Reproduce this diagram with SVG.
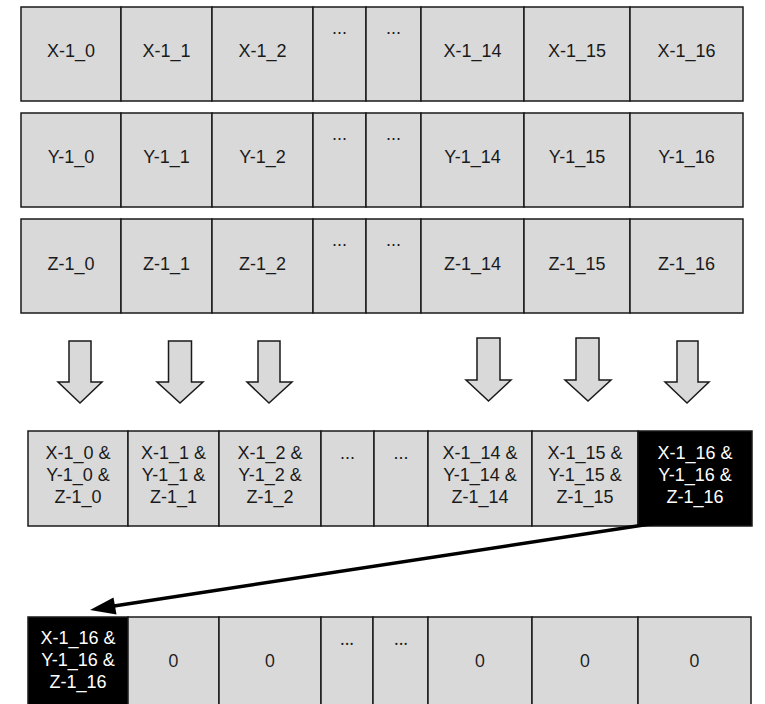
<svg xmlns="http://www.w3.org/2000/svg" width="765" height="704" viewBox="0 0 765 704">
<style>
.c{fill:#d9d9d9;stroke:#1a1a1a;stroke-width:1.5}
.k{fill:#000;stroke:#1a1a1a;stroke-width:1.5}
.t{font-family:"Liberation Sans",Arial,sans-serif;font-size:18px;fill:#1a1a1a;text-anchor:middle}
.w{font-family:"Liberation Sans",Arial,sans-serif;font-size:18px;fill:#fff;text-anchor:middle}
.z{font-family:"Open Sans","Noto Sans",sans-serif;font-size:18px;fill:#1a1a1a;text-anchor:middle}
.a{fill:#d9d9d9;stroke:#1a1a1a;stroke-width:1.5;stroke-linejoin:miter}
</style>
<rect width="765" height="704" fill="#fff"/>
<g id="rowX">
<rect class="c" x="21" y="7" width="100" height="94"/><text class="t" x="71" y="57">X-1_0</text>
<rect class="c" x="121" y="7" width="91" height="94"/><text class="t" x="166.5" y="57">X-1_1</text>
<rect class="c" x="212" y="7" width="101" height="94"/><text class="t" x="262.5" y="57">X-1_2</text>
<rect class="c" x="313" y="7" width="53" height="94"/><text class="t" x="339.5" y="34">...</text>
<rect class="c" x="366" y="7" width="55" height="94"/><text class="t" x="393.5" y="34">...</text>
<rect class="c" x="421" y="7" width="103" height="94"/><text class="t" x="472.5" y="57">X-1_14</text>
<rect class="c" x="524" y="7" width="106" height="94"/><text class="t" x="577" y="57">X-1_15</text>
<rect class="c" x="630" y="7" width="113" height="94"/><text class="t" x="686.5" y="57">X-1_16</text>
</g>
<g id="rowY">
<rect class="c" x="21" y="113" width="100" height="94"/><text class="t" x="71" y="163">Y-1_0</text>
<rect class="c" x="121" y="113" width="91" height="94"/><text class="t" x="166.5" y="163">Y-1_1</text>
<rect class="c" x="212" y="113" width="101" height="94"/><text class="t" x="262.5" y="163">Y-1_2</text>
<rect class="c" x="313" y="113" width="53" height="94"/><text class="t" x="339.5" y="140">...</text>
<rect class="c" x="366" y="113" width="55" height="94"/><text class="t" x="393.5" y="140">...</text>
<rect class="c" x="421" y="113" width="103" height="94"/><text class="t" x="472.5" y="163">Y-1_14</text>
<rect class="c" x="524" y="113" width="106" height="94"/><text class="t" x="577" y="163">Y-1_15</text>
<rect class="c" x="630" y="113" width="113" height="94"/><text class="t" x="686.5" y="163">Y-1_16</text>
</g>
<g id="rowZ">
<rect class="c" x="21" y="219" width="100" height="94"/><text class="t" x="71" y="270">Z-1_0</text>
<rect class="c" x="121" y="219" width="91" height="94"/><text class="t" x="166.5" y="270">Z-1_1</text>
<rect class="c" x="212" y="219" width="101" height="94"/><text class="t" x="262.5" y="270">Z-1_2</text>
<rect class="c" x="313" y="219" width="53" height="94"/><text class="t" x="339.5" y="246">...</text>
<rect class="c" x="366" y="219" width="55" height="94"/><text class="t" x="393.5" y="246">...</text>
<rect class="c" x="421" y="219" width="103" height="94"/><text class="t" x="472.5" y="270">Z-1_14</text>
<rect class="c" x="524" y="219" width="106" height="94"/><text class="t" x="577" y="270">Z-1_15</text>
<rect class="c" x="630" y="219" width="113" height="94"/><text class="t" x="686.5" y="270">Z-1_16</text>
</g>
<g id="blockArrows">
<polygon class="a" points="69,341 91,341 91,382 102,382 80,403 58,382 69,382"/>
<polygon class="a" points="168.5,341 191.5,341 191.5,382 203,382 180,403 157,382 168.5,382"/>
<polygon class="a" points="258,341 280,341 280,382 292,382 269,403 247,382 258,382"/>
<polygon class="a" points="477,338 500,338 500,380 511,380 488.5,401 466,380 477,380"/>
<polygon class="a" points="576,338 599,338 599,380 611,380 588,401 565,380 576,380"/>
<polygon class="a" points="677,341 698,341 698,382 709,382 687,403 665,382 677,382"/>
</g>
<g id="rowCombined">
<rect class="c" x="28" y="431" width="100" height="95"/>
<text class="t" x="78" y="459">X-1_0 &amp;</text><text class="t" x="78" y="481">Y-1_0 &amp;</text><text class="t" x="78" y="503">Z-1_0</text>
<rect class="c" x="128" y="431" width="91" height="95"/>
<text class="t" x="173.5" y="459">X-1_1 &amp;</text><text class="t" x="173.5" y="481">Y-1_1 &amp;</text><text class="t" x="173.5" y="503">Z-1_1</text>
<rect class="c" x="219" y="431" width="102" height="95"/>
<text class="t" x="270" y="459">X-1_2 &amp;</text><text class="t" x="270" y="481">Y-1_2 &amp;</text><text class="t" x="270" y="503">Z-1_2</text>
<rect class="c" x="321" y="431" width="53" height="95"/><text class="t" x="347.5" y="459">...</text>
<rect class="c" x="374" y="431" width="54" height="95"/><text class="t" x="401" y="459">...</text>
<rect class="c" x="428" y="431" width="104" height="95"/>
<text class="t" x="480" y="459">X-1_14 &amp;</text><text class="t" x="480" y="481">Y-1_14 &amp;</text><text class="t" x="480" y="503">Z-1_14</text>
<rect class="c" x="532" y="431" width="106" height="95"/>
<text class="t" x="585" y="459">X-1_15 &amp;</text><text class="t" x="585" y="481">Y-1_15 &amp;</text><text class="t" x="585" y="503">Z-1_15</text>
<rect class="k" x="638" y="431" width="114" height="95"/>
<text class="w" x="695" y="459">X-1_16 &amp;</text><text class="w" x="695" y="481">Y-1_16 &amp;</text><text class="w" x="695" y="503">Z-1_16</text>
</g>
<g id="rowResult">
<rect class="k" x="28" y="617" width="100" height="90"/>
<text class="w" x="78" y="644">X-1_16 &amp;</text><text class="w" x="78" y="666">Y-1_16 &amp;</text><text class="w" x="78" y="688">Z-1_16</text>
<rect class="c" x="128" y="617" width="91" height="90"/><text class="z" x="173.5" y="667">0</text>
<rect class="c" x="219" y="617" width="102" height="90"/><text class="z" x="270" y="667">0</text>
<rect class="c" x="321" y="617" width="52" height="90"/><text class="z" x="347" y="645">...</text>
<rect class="c" x="373" y="617" width="55" height="90"/><text class="z" x="401" y="645">...</text>
<rect class="c" x="428" y="617" width="104" height="90"/><text class="z" x="480" y="667">0</text>
<rect class="c" x="532" y="617" width="106" height="90"/><text class="z" x="585" y="667">0</text>
<rect class="c" x="638" y="617" width="113" height="90"/><text class="z" x="694.5" y="667">0</text>
</g>
<g id="connectors">
<line x1="683" y1="519" x2="114" y2="606" stroke="#000" stroke-width="3.5"/>
<polygon points="90,610 113.5,597.5 116.5,614.5" fill="#000"/>
</g>
</svg>
